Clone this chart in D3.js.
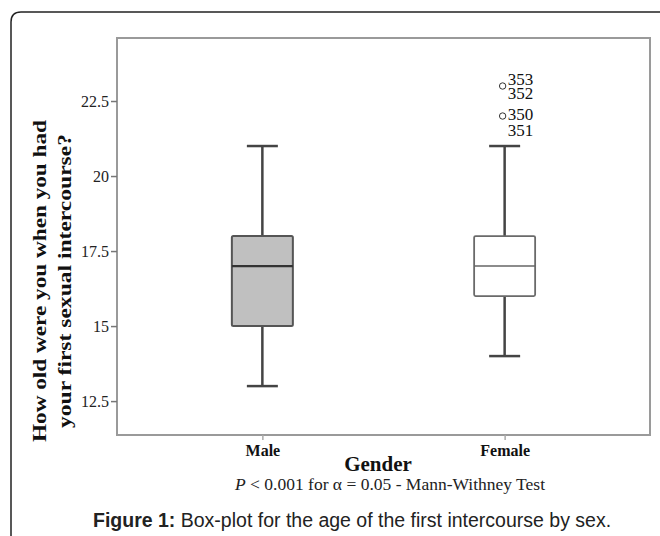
<!DOCTYPE html>
<html>
<head>
<meta charset="utf-8">
<script src="https://cdn.jsdelivr.net/npm/d3@7"></script>
<style>
  body { margin: 0; background: #fff; }
  svg { display: block; }
  .tick text { font-family: 'Liberation Serif', 'Times New Roman', serif; }
</style>
</head>
<body>
<svg width="660" height="536"></svg>
<script>
// data
let groups = ["Male", "Female"];
let lowWhisker = [13, 14];
let q1 = [15, 16];
let median = [17, 17];
let q3 = [18, 18];
let highWhisker = [21, 21];
let boxFill = ["#c0c0c0", "#ffffff"];
let outlierValues = [23, 22];
let outlierLabels = [["353", "352"], ["350", "351"]];
let yTicks = [12.5, 15, 17.5, 20, 22.5];

let svg = d3.select("svg"),
    margin = {top: 38, right: 10, bottom: 101, left: 117},
    width = 660 - margin.left - margin.right,
    height = 536 - margin.top - margin.bottom;

let serif = "'Liberation Serif', 'Times New Roman', serif";

// outer figure frame with rounded top-left corner
svg.append("path")
    .attr("d", "M11,536 L11,22 Q11,12 21,12 L660,12")
    .attr("fill", "none")
    .attr("stroke", "#222")
    .attr("stroke-width", 1.5);

let x = d3.scalePoint()
    .domain(groups)
    .range([0, width])
    .padding(0.6);

let y = d3.scaleLinear()
    .domain([11.37, 24.6])
    .range([height, 0]);

let g = svg.append("g").attr("transform", "translate(" + margin.left + "," + margin.top + ")");

// plot frame
g.append("rect")
    .attr("x", 0).attr("y", 0)
    .attr("width", width).attr("height", height)
    .attr("fill", "none")
    .attr("stroke", "#9a9a9a")
    .attr("stroke-width", 2);

let yAxis = d3.axisLeft(y).tickValues(yTicks).tickSize(6).tickPadding(2)
    .tickFormat(function (d) { return d; });
let yG = g.append("g").call(yAxis)
    .attr("font-family", serif)
    .attr("font-size", 16);
yG.select(".domain").remove();
yG.selectAll("line").attr("stroke", "#777").attr("stroke-width", 1.5);
yG.selectAll("text").attr("fill", "#222").attr("dy", "0.36em");

let xAxis = d3.axisBottom(x).tickSize(5).tickPadding(5);
let xG = g.append("g").attr("transform", "translate(0," + height + ")").call(xAxis)
    .attr("font-family", serif)
    .attr("font-size", 16)
    .attr("font-weight", "bold");
xG.select(".domain").remove();
xG.selectAll("line").attr("stroke", "#aaa").attr("stroke-width", 1.5);
xG.selectAll("text").attr("fill", "#111");

let boxW = 61, capW = 31;

groups.forEach(function (name, i) {
    let cx = x(name);
    let strokeCol = "#444";
    // whiskers
    g.append("line")
        .attr("x1", cx).attr("x2", cx)
        .attr("y1", y(highWhisker[i])).attr("y2", y(q3[i]))
        .attr("stroke", strokeCol).attr("stroke-width", 2.5);
    g.append("line")
        .attr("x1", cx).attr("x2", cx)
        .attr("y1", y(q1[i])).attr("y2", y(lowWhisker[i]))
        .attr("stroke", strokeCol).attr("stroke-width", 2.5);
    [highWhisker[i], lowWhisker[i]].forEach(function (v) {
        g.append("line")
            .attr("x1", cx - capW / 2).attr("x2", cx + capW / 2)
            .attr("y1", y(v)).attr("y2", y(v))
            .attr("stroke", strokeCol).attr("stroke-width", 2.5);
    });
    // box
    g.append("rect")
        .attr("x", cx - boxW / 2)
        .attr("y", y(q3[i]))
        .attr("width", boxW)
        .attr("height", y(q1[i]) - y(q3[i]))
        .attr("rx", 1.5)
        .attr("fill", boxFill[i])
        .attr("stroke", i === 0 ? "#555" : "#6a6a6a")
        .attr("stroke-width", i === 0 ? 2 : 1.8);
    g.append("line")
        .attr("x1", cx - boxW / 2).attr("x2", cx + boxW / 2)
        .attr("y1", y(median[i])).attr("y2", y(median[i]))
        .attr("stroke", i === 0 ? "#333" : "#666")
        .attr("stroke-width", i === 0 ? 2.2 : 1.6);
});

// outliers (Female), each circle carries two case labels
let fx = x("Female");
let labelShift = [[-1, 13], [4, 20]];
outlierValues.forEach(function (v, j) {
    g.append("circle")
        .attr("cx", fx - 2).attr("cy", y(v))
        .attr("r", 3.2)
        .attr("fill", "none")
        .attr("stroke", "#333")
        .attr("stroke-width", 1);
    outlierLabels[j].forEach(function (lab, k) {
        g.append("text")
            .attr("x", fx + 3).attr("y", y(v) + labelShift[j][k])
            .attr("font-family", serif).attr("font-size", 17).attr("fill", "#111")
            .text(lab);
    });
});

// axis titles
let titleLines = ["How old were you when you had", "your first sexual intercourse?"];
let titleLen = [322, 294];
titleLines.forEach(function (t, i) {
    svg.append("text")
        .attr("transform", "translate(" + (46 + i * 25) + ",281) rotate(-90)")
        .attr("text-anchor", "middle")
        .attr("font-family", serif)
        .attr("font-weight", "bold")
        .attr("font-size", 18.5)
        .attr("textLength", titleLen[i])
        .attr("lengthAdjust", "spacingAndGlyphs")
        .attr("fill", "#111")
        .text(t);
});

svg.append("text")
    .attr("x", 378).attr("y", 471)
    .attr("text-anchor", "middle")
    .attr("font-family", serif)
    .attr("font-weight", "bold")
    .attr("font-size", 21)
    .attr("fill", "#111")
    .text("Gender");

let pText = svg.append("text")
    .attr("x", 390).attr("y", 490)
    .attr("text-anchor", "middle")
    .attr("font-family", serif)
    .attr("font-size", 17.5)
    .attr("fill", "#222");
pText.append("tspan").attr("font-style", "italic").text("P");
pText.append("tspan").text(" < 0.001 for α = 0.05 - Mann-Withney Test");

let cap = svg.append("text")
    .attr("x", 93).attr("y", 527)
    .attr("font-family", "'Liberation Sans', Arial, sans-serif")
    .attr("font-size", 19.5)
    .attr("fill", "#222");
cap.append("tspan").attr("font-weight", "bold").text("Figure 1:");
cap.append("tspan").text(" Box-plot for the age of the first intercourse by sex.");
</script>
</body>
</html>
